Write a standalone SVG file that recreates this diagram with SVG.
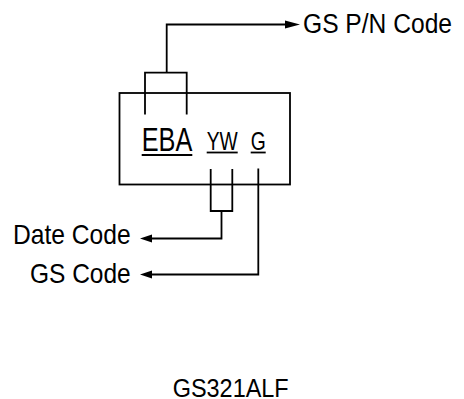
<svg xmlns="http://www.w3.org/2000/svg" width="464" height="399" viewBox="0 0 464 399">
<style>
.ln{fill:none;stroke:#000;stroke-width:1.8}
.ah{fill:#000;stroke:none}
text{font-family:"Liberation Sans",Arial,sans-serif;fill:#000}
.ul{stroke:#000;stroke-width:1.8}
</style>
<rect width="464" height="399" fill="#fff"/>
<g id="connectors">
<path class="ln" d="M145 114.5V72.7H186.7V114.5"/>
<path class="ln" d="M166.7 72.7V24.5H287"/>
<polygon class="ah" points="300,24.5 285,20.5 285,28.5"/>
<path class="ln" d="M210.7 169V211H232.3V169"/>
<path class="ln" d="M221.5 211V238.5H150"/>
<polygon class="ah" points="140,238.5 152,234.5 152,242.5"/>
<path class="ln" d="M258.3 168.5V274.5H150"/>
<polygon class="ah" points="140,274.5 152,270.5 152,278.5"/>
</g>
<g id="chip">
<rect class="ln" x="119.5" y="93" width="170.5" height="91.5"/>
<text x="141.7" y="151" font-size="32.5" textLength="50.6" lengthAdjust="spacingAndGlyphs">EBA</text>
<line class="ul" x1="141.7" y1="155" x2="192.3" y2="155"/>
<text x="206.7" y="150" font-size="26.5" textLength="31" lengthAdjust="spacingAndGlyphs">YW</text>
<line class="ul" x1="206.7" y1="152.5" x2="237.7" y2="152.5"/>
<text x="250.7" y="150" font-size="26.5" textLength="15" lengthAdjust="spacingAndGlyphs">G</text>
<line class="ul" x1="250.7" y1="152.5" x2="265.7" y2="152.5"/>
</g>
<g id="pn-label"><text x="303" y="33" font-size="27" textLength="149" lengthAdjust="spacingAndGlyphs">GS P/N Code</text></g>
<g id="date-label"><text x="13" y="244.3" font-size="28.5" textLength="117.7" lengthAdjust="spacingAndGlyphs">Date Code</text></g>
<g id="gs-label"><text x="30" y="283.3" font-size="28.5" textLength="100.7" lengthAdjust="spacingAndGlyphs">GS Code</text></g>
<g id="part-label"><text x="172.7" y="396.5" font-size="25" textLength="116" lengthAdjust="spacingAndGlyphs">GS321ALF</text></g>
</svg>
